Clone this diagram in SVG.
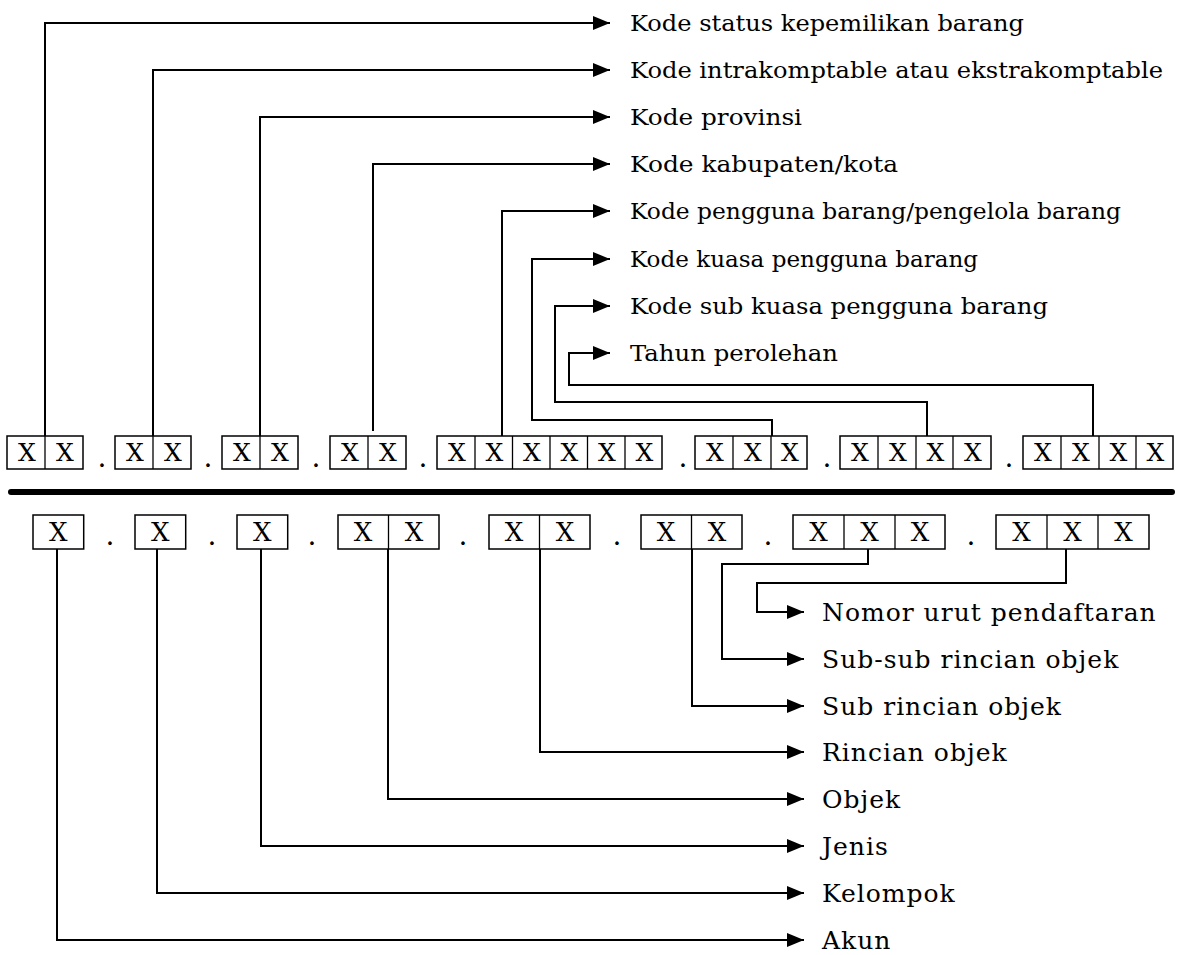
<svg xmlns="http://www.w3.org/2000/svg" width="1182" height="955" viewBox="0 0 1182 955">
<style>
.bg{fill:#fff}
.box{fill:none;stroke:#000;stroke-width:1.5}
.div{stroke:#000;stroke-width:1.3}
.x{font-family:"DejaVu Serif","Liberation Serif",serif;font-size:25px;fill:#000;text-anchor:middle}
.xb{font-family:"DejaVu Serif","Liberation Serif",serif;font-size:26px;fill:#000;text-anchor:middle}
.dot{font-family:"DejaVu Serif",serif;font-size:28px;fill:#000;text-anchor:middle}
.conn path{fill:none;stroke:#000;stroke-width:2}
.lt{font-family:"DejaVu Serif","Liberation Serif",serif;font-size:23px;fill:#000}
.lb{font-family:"DejaVu Serif","Liberation Serif",serif;font-size:25px;fill:#000;letter-spacing:1px}
</style>
<defs>
<marker id="ah" markerUnits="userSpaceOnUse" markerWidth="17" markerHeight="14" refX="17" refY="7" orient="auto">
<path d="M0,0 L17,7 L0,14 z" fill="#000"/>
</marker>
</defs>
<rect class="bg" x="0" y="0" width="1182" height="955"/>

<g id="top-codes">
<g id="t1"><rect class="box" x="7" y="436" width="76" height="33"/><line class="div" x1="45" y1="436" x2="45" y2="469"/><text class="x" x="27" y="461">X</text><text class="x" x="65" y="461">X</text></g>
<text class="dot" x="102" y="467">.</text>
<g id="t2"><rect class="box" x="115" y="436" width="76" height="33"/><line class="div" x1="153" y1="436" x2="153" y2="469"/><text class="x" x="135" y="461">X</text><text class="x" x="173" y="461">X</text></g>
<text class="dot" x="208" y="467">.</text>
<g id="t3"><rect class="box" x="222" y="436" width="76" height="33"/><line class="div" x1="260" y1="436" x2="260" y2="469"/><text class="x" x="242" y="461">X</text><text class="x" x="280" y="461">X</text></g>
<text class="dot" x="316" y="467">.</text>
<g id="t4"><rect class="box" x="330" y="436" width="76" height="33"/><line class="div" x1="368" y1="436" x2="368" y2="469"/><text class="x" x="350" y="461">X</text><text class="x" x="388" y="461">X</text></g>
<text class="dot" x="423" y="467">.</text>
<g id="t5"><rect class="box" x="437" y="436" width="225" height="33"/>
<line class="div" x1="475" y1="436" x2="475" y2="469"/><line class="div" x1="512.5" y1="436" x2="512.5" y2="469"/><line class="div" x1="550" y1="436" x2="550" y2="469"/><line class="div" x1="587.5" y1="436" x2="587.5" y2="469"/><line class="div" x1="625" y1="436" x2="625" y2="469"/>
<text class="x" x="457" y="461">X</text><text class="x" x="494.5" y="461">X</text><text class="x" x="532" y="461">X</text><text class="x" x="569.5" y="461">X</text><text class="x" x="607" y="461">X</text><text class="x" x="644.5" y="461">X</text></g>
<text class="dot" x="683" y="467">.</text>
<g id="t6"><rect class="box" x="695" y="436" width="112" height="33"/>
<line class="div" x1="733" y1="436" x2="733" y2="469"/><line class="div" x1="771" y1="436" x2="771" y2="469"/>
<text class="x" x="715" y="461">X</text><text class="x" x="753" y="461">X</text><text class="x" x="790" y="461">X</text></g>
<text class="dot" x="827" y="467">.</text>
<g id="t7"><rect class="box" x="840" y="436" width="151" height="33"/>
<line class="div" x1="878" y1="436" x2="878" y2="469"/><line class="div" x1="916" y1="436" x2="916" y2="469"/><line class="div" x1="953" y1="436" x2="953" y2="469"/>
<text class="x" x="860" y="461">X</text><text class="x" x="898" y="461">X</text><text class="x" x="935.5" y="461">X</text><text class="x" x="973" y="461">X</text></g>
<text class="dot" x="1009" y="467">.</text>
<g id="t8"><rect class="box" x="1023" y="436" width="150" height="33"/>
<line class="div" x1="1061" y1="436" x2="1061" y2="469"/><line class="div" x1="1099" y1="436" x2="1099" y2="469"/><line class="div" x1="1136" y1="436" x2="1136" y2="469"/>
<text class="x" x="1043" y="461">X</text><text class="x" x="1081" y="461">X</text><text class="x" x="1118.5" y="461">X</text><text class="x" x="1155.5" y="461">X</text></g>
</g>

<rect id="divider" x="8" y="489" width="1167" height="6" rx="3" fill="#000"/>

<g id="bottom-codes">
<g id="b1"><rect class="box" x="33" y="515" width="50.7" height="34"/><text class="xb" x="58.3" y="541">X</text></g>
<text class="dot" x="110" y="545">.</text>
<g id="b2"><rect class="box" x="135" y="515" width="50.7" height="34"/><text class="xb" x="160.3" y="541">X</text></g>
<text class="dot" x="212" y="545">.</text>
<g id="b3"><rect class="box" x="237" y="515" width="50.7" height="34"/><text class="xb" x="262.3" y="541">X</text></g>
<text class="dot" x="312" y="545">.</text>
<g id="b4"><rect class="box" x="338" y="515" width="101" height="34"/><line class="div" x1="388.5" y1="515" x2="388.5" y2="549"/><text class="xb" x="363" y="541">X</text><text class="xb" x="414" y="541">X</text></g>
<text class="dot" x="463" y="545">.</text>
<g id="b5"><rect class="box" x="489" y="515" width="101" height="34"/><line class="div" x1="539.5" y1="515" x2="539.5" y2="549"/><text class="xb" x="514" y="541">X</text><text class="xb" x="565" y="541">X</text></g>
<text class="dot" x="617" y="545">.</text>
<g id="b6"><rect class="box" x="641" y="515" width="101" height="34"/><line class="div" x1="691.5" y1="515" x2="691.5" y2="549"/><text class="xb" x="666" y="541">X</text><text class="xb" x="717" y="541">X</text></g>
<text class="dot" x="768" y="545">.</text>
<g id="b7"><rect class="box" x="793" y="515" width="152" height="34"/><line class="div" x1="844" y1="515" x2="844" y2="549"/><line class="div" x1="895" y1="515" x2="895" y2="549"/><text class="xb" x="818.5" y="541">X</text><text class="xb" x="869.5" y="541">X</text><text class="xb" x="920" y="541">X</text></g>
<text class="dot" x="971" y="545">.</text>
<g id="b8"><rect class="box" x="996" y="515" width="153" height="34"/><line class="div" x1="1047" y1="515" x2="1047" y2="549"/><line class="div" x1="1098" y1="515" x2="1098" y2="549"/><text class="xb" x="1021.5" y="541">X</text><text class="xb" x="1072.5" y="541">X</text><text class="xb" x="1123.5" y="541">X</text></g>
</g>

<g id="connectors" class="conn">
<path d="M45,436 V23 H610" marker-end="url(#ah)"/>
<path d="M153,436 V70 H610" marker-end="url(#ah)"/>
<path d="M260,436 V117 H610" marker-end="url(#ah)"/>
<path d="M373,431 V164 H610" marker-end="url(#ah)"/>
<path d="M502,436 V211 H610" marker-end="url(#ah)"/>
<path d="M772,436 V420 H532 V259 H610" marker-end="url(#ah)"/>
<path d="M927,436 V402 H555 V306 H610" marker-end="url(#ah)"/>
<path d="M1093,436 V385 H569 V353 H610" marker-end="url(#ah)"/>
<path d="M1066,549 V583 H757 V612 H804" marker-end="url(#ah)"/>
<path d="M868,549 V564 H722 V659 H804" marker-end="url(#ah)"/>
<path d="M692,549 V706 H804" marker-end="url(#ah)"/>
<path d="M540,549 V752 H804" marker-end="url(#ah)"/>
<path d="M388,549 V799 H804" marker-end="url(#ah)"/>
<path d="M261,549 V846 H804" marker-end="url(#ah)"/>
<path d="M157,549 V893 H804" marker-end="url(#ah)"/>
<path d="M57,549 V940 H804" marker-end="url(#ah)"/>
</g>

<g id="labels-top">
<text id="l1" class="lt" x="630" y="31" textLength="394" lengthAdjust="spacingAndGlyphs">Kode status kepemilikan barang</text>
<text id="l2" class="lt" x="630" y="78" textLength="533" lengthAdjust="spacingAndGlyphs">Kode intrakomptable atau ekstrakomptable</text>
<text id="l3" class="lt" x="630" y="125" textLength="172" lengthAdjust="spacingAndGlyphs">Kode provinsi</text>
<text id="l4" class="lt" x="630" y="172" textLength="268" lengthAdjust="spacingAndGlyphs">Kode kabupaten/kota</text>
<text id="l5" class="lt" x="630" y="219" textLength="491" lengthAdjust="spacingAndGlyphs">Kode pengguna barang/pengelola barang</text>
<text id="l6" class="lt" x="630" y="267" textLength="348" lengthAdjust="spacingAndGlyphs">Kode kuasa pengguna barang</text>
<text id="l7" class="lt" x="630" y="314" textLength="418" lengthAdjust="spacingAndGlyphs">Kode sub kuasa pengguna barang</text>
<text id="l8" class="lt" x="630" y="361" textLength="208" lengthAdjust="spacingAndGlyphs">Tahun perolehan</text>
</g>

<g id="labels-bottom">
<text id="m1" class="lb" x="822" y="621">Nomor urut pendaftaran</text>
<text id="m2" class="lb" x="822" y="668">Sub-sub rincian objek</text>
<text id="m3" class="lb" x="822" y="715">Sub rincian objek</text>
<text id="m4" class="lb" x="822" y="761">Rincian objek</text>
<text id="m5" class="lb" x="822" y="808">Objek</text>
<text id="m6" class="lb" x="822" y="855">Jenis</text>
<text id="m7" class="lb" x="822" y="902">Kelompok</text>
<text id="m8" class="lb" x="822" y="949">Akun</text>
</g>
</svg>
